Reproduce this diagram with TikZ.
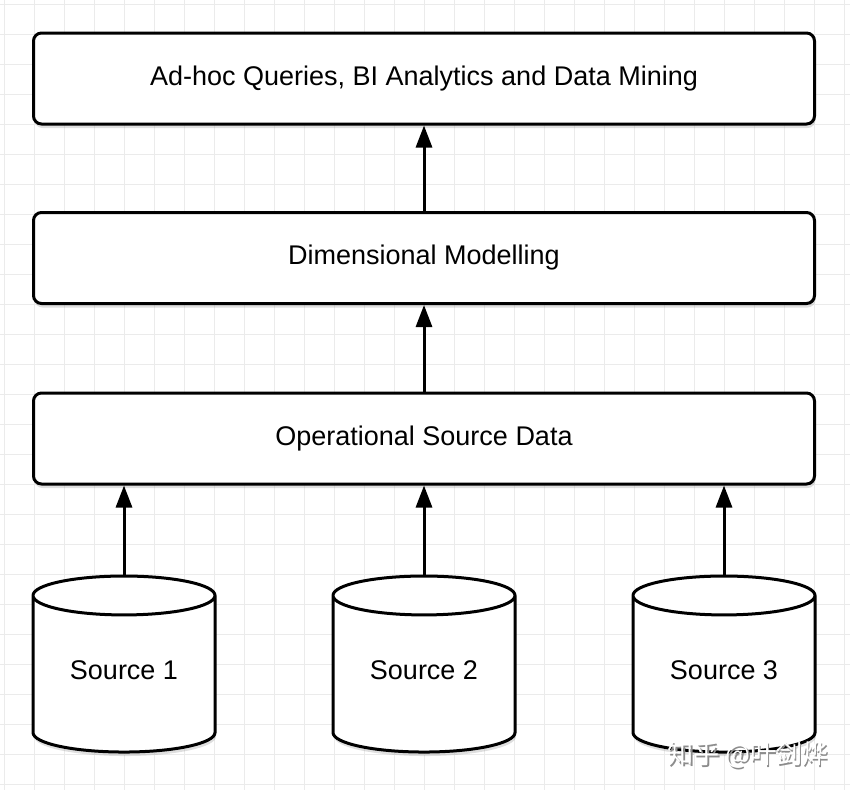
\documentclass[tikz,border=0pt]{standalone}
\usepackage{fontspec}
\setmainfont{Liberation Sans}
\newfontfamily\cjkfont{Noto Sans CJK SC}
\usetikzlibrary{shapes,arrows.meta,positioning,shadows,backgrounds}

\newcommand\srclabel[1]{\raisebox{4.5pt}[\height][\depth]{#1}}

\begin{document}
\begin{tikzpicture}[
    x=1pt, y=-1pt,
    % Node styles
    layer/.style={draw, rounded corners=8pt, line width=3pt, fill=white,
        minimum width=781pt, minimum height=91pt, inner sep=0pt,
        font=\fontsize{27}{30}\selectfont,
        drop shadow={opacity=0.25, shadow xshift=1pt, shadow yshift=-4pt}},
    source/.style={draw, cylinder, shape border rotate=90, aspect=0.36,
        line width=3pt, fill=white, minimum width=182pt, minimum height=176pt,
        inner sep=0pt, outer sep=0pt, font=\fontsize{27}{30}\selectfont,
        drop shadow={opacity=0.25, shadow xshift=1pt, shadow yshift=-4pt}},
    edge/.style={-{Triangle[length=22pt,width=16pt]}, line width=3pt},
    gridline/.style={draw=black!8, line width=1pt},
]

\useasboundingbox (0,0) rectangle (850,790);

% ============================================================
% Background grid
% ============================================================
\foreach \gx in {4,34,...,850} \draw[gridline] (\gx,0) -- (\gx,790);
\foreach \gy in {4,34,...,790} \draw[gridline] (0,\gy) -- (850,\gy);

% ============================================================
% Layers
% ============================================================
\node[layer] (mining) at (424, 78.5) {Ad-hoc Queries, BI Analytics and Data Mining};
\node[layer] (dim) at (424, 258) {Dimensional Modelling};
\node[layer] (ops) at (424, 438.5) {Operational Source Data};

% ============================================================
% Sources
% ============================================================
\node[source] (src1) at (124, 674.5) {\srclabel{Source 1}};
\node[source] (src2) at (424, 674.5) {\srclabel{Source 2}};
\node[source] (src3) at (724, 674.5) {\srclabel{Source 3}};

% ============================================================
% Edges (Sources -> Operational -> Dimensional -> Mining)
% ============================================================
\draw[edge] (src1.north) -- (src1.north |- ops.south);
\draw[edge] (src2.north) -- (ops.south);
\draw[edge] (src3.north) -- (src3.north |- ops.south);
\draw[edge] (ops) -- (dim);
\draw[edge] (dim) -- (mining);

% ============================================================
% Watermark
% ============================================================
\node[text=black!45, font=\cjkfont\fontsize{26}{28}\selectfont] (wmshadow) at (749.5, 756.5) {知乎 @叶剑烨};
\node[text=white, font=\cjkfont\fontsize{26}{28}\selectfont] (wm) at (748, 755) {知乎 @叶剑烨};

\end{tikzpicture}
\end{document}
